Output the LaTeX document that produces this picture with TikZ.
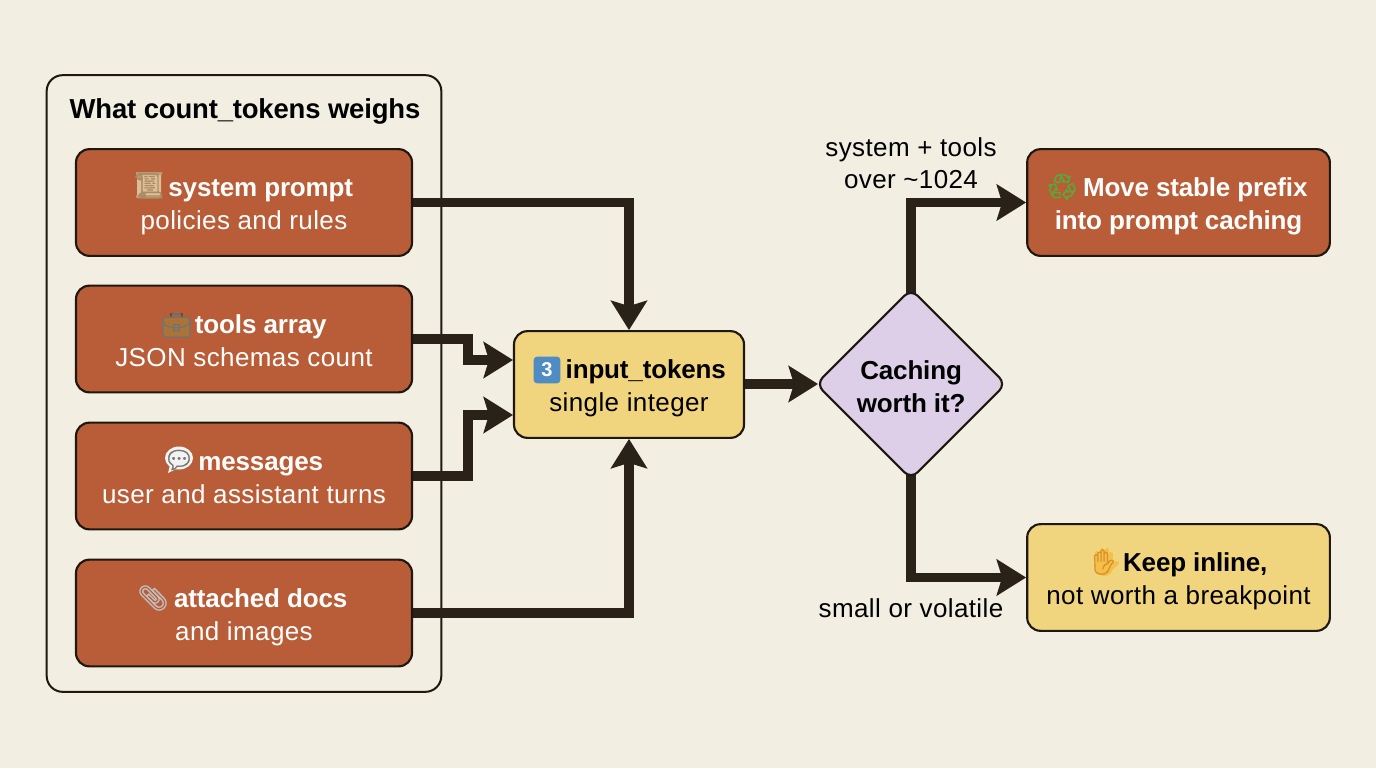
\documentclass[tikz,border=0pt]{standalone}
\usepackage{fontspec}
\setmainfont{Liberation Sans}[LetterSpace=1.5,BoldFeatures={LetterSpace=-0.6}]
\newfontfamily\emojifont{Noto Emoji}[RawFeature={embolden=1.2}]
\usetikzlibrary{arrows.meta,shapes.geometric}
\pgfdeclarelayer{under}
\pgfdeclarelayer{wires}
\pgfsetlayers{under,wires,main}
\definecolor{paper}{HTML}{F2EEE2}
\definecolor{ink}{HTML}{2A2118}
\definecolor{edge}{HTML}{1E1810}
\definecolor{rust}{HTML}{B95C38}
\definecolor{sand}{HTML}{F0D47E}
\definecolor{lilac}{HTML}{DDCFE8}
\definecolor{keyblue}{HTML}{4F8CC4}
\definecolor{parch}{HTML}{DDBE96}
\definecolor{parchd}{HTML}{A98A62}
\definecolor{palm}{HTML}{F5C04A}
\definecolor{palmd}{HTML}{D9922A}
\definecolor{leaf}{HTML}{4FB03A}
\newcommand{\firstl}{\rule{0pt}{21pt}}
\newcommand{\firstd}{\rule{0pt}{23pt}}
\newcommand{\lastl}{\rule[-5pt]{0pt}{5pt}}
\newcommand{\icongap}{\hspace*{25pt}}
\tikzset{
  x=0.75pt,y=-0.75pt,
  txt/.style={font=\fontsize{19.5}{24.6}\selectfont,align=center,text=#1},
  box/.style={draw=edge,line width=1.6pt,rounded corners=10pt,inner sep=0pt,
    minimum height=80pt},
  rustbox/.style={box,fill=rust,minimum width=252pt,txt=white},
  sidebox/.style={box,fill=#1,minimum width=227pt},
  flow/.style={draw=ink,line width=6.8pt,line join=miter,
    -{Stealth[length=22pt,width=27pt,inset=4pt]}},
  lbl/.style={font=\fontsize{19.5}{24}\selectfont,align=center,text=black},
  icon/.style={font=\fontsize{18.5}{19}\selectfont\emojifont,text=#1,inner sep=0pt},
}
\begin{document}
\begin{tikzpicture}
\useasboundingbox (0,0) rectangle (1376,768);
\begin{pgfonlayer}{under}
\fill[paper] (0,0) rectangle (1376,768);
\node[draw=edge,line width=1.5pt,rounded corners=12pt,fill=paper,minimum width=296pt,minimum height=462.5pt,inner sep=0pt] (panel) at (244,383.5) {};
\end{pgfonlayer}
\node[font=\fontsize{20.6}{24}\selectfont\bfseries,text=black] (title) at (245,111) {What count\_tokens weighs};
\node[rustbox] (sys) at (244,202.5) {\firstl\icongap\textbf{system prompt}\\policies and rules\lastl};
\node[rustbox] (tools) at (244,339) {\firstl\icongap\textbf{tools array}\\JSON schemas count\lastl};
\node[rustbox] (msgs) at (244,476) {\firstl\icongap\textbf{messages}\\user and assistant turns\lastl};
\node[rustbox] (docs) at (244,613) {\firstl\icongap\textbf{attached docs}\\and images\lastl};
\node[box,fill=sand,minimum width=172.5pt,txt=black] (input) at (629,384.5) {\firstl\icongap\textbf{input\_tokens}\\single integer\lastl};
\node[diamond,draw=edge,line width=1.6pt,rounded corners=7pt,fill=lilac,minimum width=143pt,minimum height=143pt,inner sep=0pt,txt=black] (dec) at (911,384) {\firstd\textbf{Caching}\\\textbf{worth it?}\lastl};
\node[sidebox=rust,txt=white] (cache) at (1178.5,202.5) {\firstl\icongap\textbf{Move stable prefix}\\\textbf{into prompt caching}\lastl};
\node[sidebox=sand,txt=black] (keep) at (1178.5,577.5) {\firstl\icongap\textbf{Keep inline,}\\not worth a breakpoint\lastl};
% emoji backings
\fill[parch,rounded corners=1pt] (137,174) rectangle (161,198);
\fill[parchd!70!parch] (136,172) rectangle (162,175) (136,195) rectangle (162,198);
\fill[brown!90!black,rounded corners=2pt] (163,318) rectangle (190,337);
\draw[brown!60!black,line width=1.5pt] (171,318) -- (171,314) -- (182,314) -- (182,318);
\fill[white!95!black] (179,458) ellipse [x radius=14,y radius=11.5];
\fill[white!95!black] (170,465) -- (168,473) -- (178,468) -- cycle;
\fill[palm] (1104,567) circle [radius=9];
\draw[palm,line width=3pt,line cap=round] (1098,564) -- (1097,553) (1102,562) -- (1102,550) (1106,562) -- (1107,550) (1110,564) -- (1111,554) (1110,569) -- (1117,563);
% emoji glyphs
\node[icon=parchd] (escroll) at (148.5,186) {📜};
\node[icon=black!55] (ecase) at (176.5,325) {💼};
\node[icon=black!55] (ebubble) at (179,460) {💬};
\node[icon=black!25] (eclip) at (153,598) {📎};
\node[icon=leaf] (erecycle) at (1062,187) {♻};
\node[icon=palmd] (ehand) at (1104,562) {✋};
\node[rounded corners=2.5pt,fill=keyblue,text=white,minimum size=20pt,inner sep=0pt,font=\fontsize{15}{15}\selectfont\bfseries] (key) at (547,370) {3};
\node[lbl] (l1) at (911,163) {system + tools\\over \textasciitilde1024};
\node[lbl] (l2) at (911,608) {small or volatile};
\coordinate (a) at (513,360);
\coordinate (b) at (513,415);
\coordinate (dw) at (818,384);
\begin{pgfonlayer}{wires}
\draw[flow] (sys.east) -| (input.north);
\draw[flow] (tools.east) -- (468,339) |- (a);
\draw[flow] (msgs.east) -- (468,476) |- (b);
\draw[flow] (docs.east) -| (input.south);
\draw[flow] (input.east |- dw) -- (dw);
\draw[flow] (dec.center) |- (cache.west);
\draw[flow] (dec.center) |- (keep.west);
\end{pgfonlayer}
\end{tikzpicture}
\end{document}
